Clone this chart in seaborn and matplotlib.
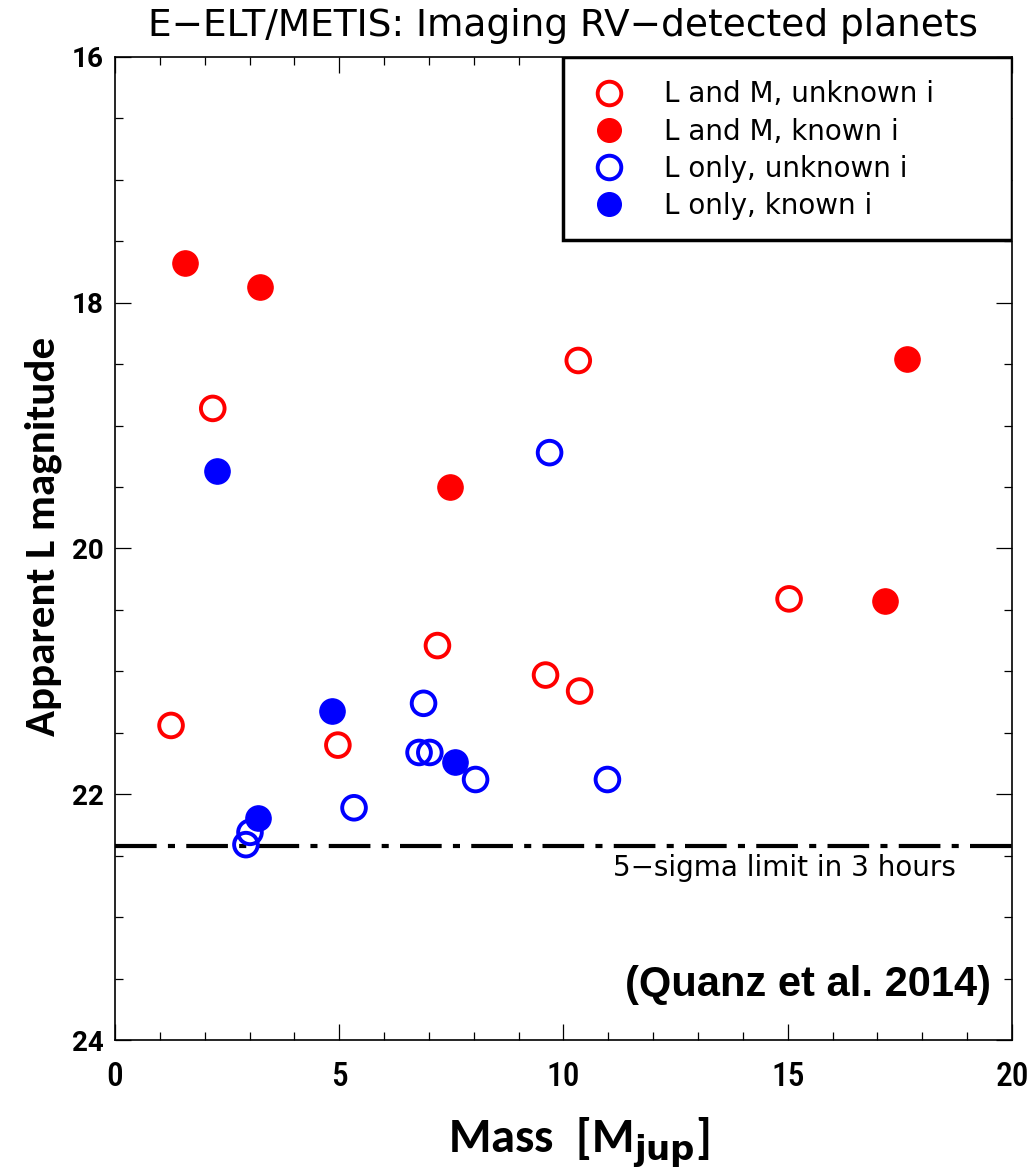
import matplotlib
matplotlib.use('Agg')
import matplotlib.pyplot as plt
import seaborn as sns
import pandas as pd
from matplotlib.lines import Line2D
from matplotlib.patches import Rectangle
from matplotlib.ticker import MultipleLocator

# L and M band, unknown inclination (open red)
lm_unknown_mass = [1.25, 2.18, 4.97, 7.19, 9.60, 10.36, 10.33, 15.03]
lm_unknown_mag = [21.44, 18.86, 21.60, 20.79, 21.03, 21.16, 18.47, 20.41]
# L and M band, known inclination (filled red)
lm_known_mass = [1.56, 3.23, 7.48, 17.17, 17.66]
lm_known_mag = [17.68, 17.87, 19.50, 20.43, 18.46]
# L only, unknown inclination (open blue)
l_unknown_mass = [9.69, 6.88, 6.78, 7.02, 8.04, 5.33, 3.01, 2.92, 10.98]
l_unknown_mag = [19.22, 21.26, 21.66, 21.66, 21.88, 22.11, 22.31, 22.41, 21.88]
# L only, known inclination (filled blue)
l_known_mass = [2.27, 4.83, 7.58, 3.18]
l_known_mag = [19.37, 21.32, 21.74, 22.19]

limit_mag = 22.42
labels = ['L and M, unknown i', 'L and M, known i',
          'L only, unknown i', 'L only, known i']

groups = [
    (labels[0], lm_unknown_mass, lm_unknown_mag, 'red', False),
    (labels[1], lm_known_mass, lm_known_mag, 'red', True),
    (labels[2], l_unknown_mass, l_unknown_mag, 'blue', False),
    (labels[3], l_known_mass, l_known_mag, 'blue', True),
]

sns.set_style('ticks', rc={'text.color': 'black', 'axes.labelcolor': 'black',
                           'xtick.color': 'black', 'ytick.color': 'black',
                           'axes.edgecolor': 'black'})
plt.rcParams['font.family'] = ['DejaVu Sans']

fig = plt.figure(figsize=(10.34, 11.7), dpi=100)
ax = fig.add_axes([0.1112, 0.1111, 0.8675, 0.8402])

handles = []
for name, xs, ys, col, filled in groups:
    df = pd.DataFrame({'mass': xs, 'mag': ys})
    if filled:
        sns.scatterplot(data=df, x='mass', y='mag', ax=ax, s=330,
                        facecolor=col, edgecolor=col, linewidth=1.0, zorder=3)
    else:
        sns.scatterplot(data=df, x='mass', y='mag', ax=ax, s=290,
                        facecolor='none', edgecolor=col, linewidth=2.8, zorder=3)
    handles.append(Line2D([], [], ls='none', marker='o', markersize=17,
                          markerfacecolor=col if filled else 'none',
                          markeredgecolor=col, markeredgewidth=1.0 if filled else 2.8,
                          label=name))

# detection limit
ax.axhline(limit_mag, color='black', lw=3, dashes=(10, 2.7, 1.7, 2.7), zorder=2)
ax.text(0.937, limit_mag + 0.07, '5\u2212sigma limit in 3 hours', transform=ax.get_yaxis_transform(),
        ha='right', va='top', fontsize=20)
ax.text(0.977, 23.55, '(Quanz et al. 2014)', ha='right', va='center',
        transform=ax.get_yaxis_transform(), fontsize=30, fontweight='bold',
        family='Liberation Sans')

ax.set_xlim(0, 20)
ax.set_ylim(24, 16)
ax.xaxis.set_major_locator(MultipleLocator(5))
ax.xaxis.set_minor_locator(MultipleLocator(1))
ax.yaxis.set_major_locator(MultipleLocator(2))
ax.yaxis.set_minor_locator(MultipleLocator(0.5))
ax.tick_params(which='both', direction='in', top=True, right=True, width=0.9, color='black')
ax.tick_params(which='major', length=11.5)
ax.tick_params(which='minor', length=5.8)
ax.tick_params(axis='x', which='major', pad=15, labelsize=24)
ax.tick_params(axis='y', which='major', pad=8, labelsize=20)
for lab in ax.get_xticklabels():
    lab.set_family('Roboto Condensed')
    lab.set_fontweight(500)
for lab in ax.get_yticklabels():
    lab.set_family('Roboto')
    lab.set_fontweight('bold')
for sp in ax.spines.values():
    sp.set_linewidth(1.2)

# legend box
ax.add_patch(Rectangle((0.5, 0.814), 0.5, 0.186, transform=ax.transAxes,
                       facecolor='white', edgecolor='black', lw=2.5, zorder=4))
ax.legend(handles=handles, loc='upper left', bbox_to_anchor=(0.507, 0.9875),
          frameon=False, fontsize=20, handletextpad=1.0, labelspacing=0.33,
          borderaxespad=0).set_zorder(5)

ax.set_title('E\u2212ELT/METIS: Imaging RV\u2212detected planets', fontsize=27, pad=15)
ax.set_xlabel(r'Mass  [M$_{\mathbf{jup}}$]', fontsize=35, fontweight='bold', family='Carlito')
ax.xaxis.set_label_coords(0.517, -0.077)
ax.set_ylabel('Apparent L magnitude', fontsize=31, fontweight='bold', family='Carlito')
ax.yaxis.set_label_coords(-0.059, 0.512)

fig.savefig('out.png', dpi=100)
